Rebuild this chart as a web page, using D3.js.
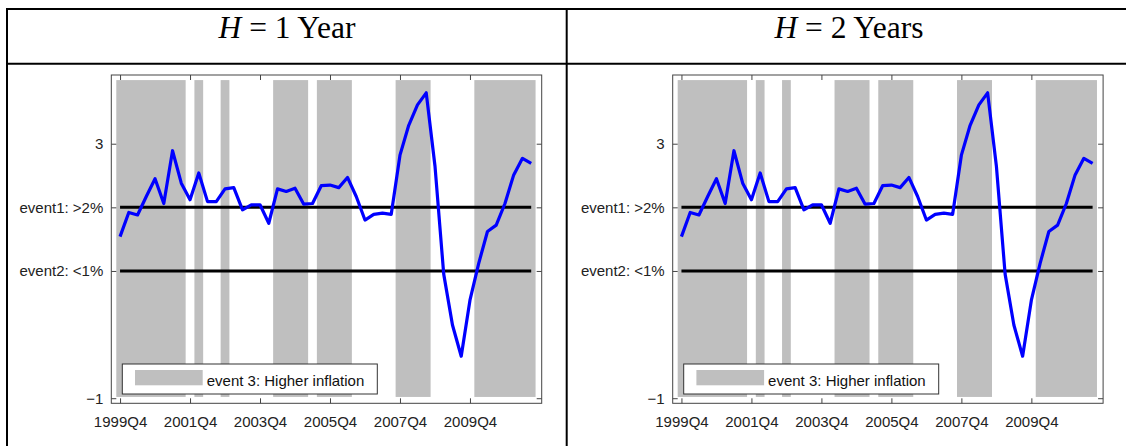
<!DOCTYPE html>
<html>
<head>
<meta charset="utf-8">
<script src="https://cdn.jsdelivr.net/npm/d3@7"></script>
<style>
  body { margin: 0; background: #fff; }
  svg { display: block; }
  .axis text { font-family: "Liberation Sans", Arial, sans-serif; font-size: 15px; fill: #222; }
  .axis line { stroke: #444; }
</style>
</head>
<body>
<svg id="chart" width="1126" height="446"></svg>
<script>
// table headers (italic H + rest)
var panelTitles = [' = 1 Year', ' = 2 Years'];

// x axis: quarter index 0 = 1999Q4
var xTickIdx = [0, 8, 16, 24, 32, 40];
var xTickLabels = ['1999Q4', '2001Q4', '2003Q4', '2005Q4', '2007Q4', '2009Q4'];

// y axis ticks and their labels
var yTickVals = [-1, 1, 2, 3];
var yTickLabels = ['\u22121', 'event2: <1%', 'event1: >2%', '3'];

// event thresholds (horizontal lines)
var thresholds = [2, 1];

// inflation expectation series, 1999Q4 .. 2011Q3
var inflation = [
  1.54, 1.92, 1.88, 2.17, 2.45, 2.06, 2.89, 2.38,
  2.12, 2.54, 2.09, 2.09, 2.29, 2.31, 1.96, 2.04,
  2.04, 1.75, 2.29, 2.25, 2.30, 2.05, 2.06, 2.34,
  2.35, 2.31, 2.47, 2.17, 1.80, 1.89, 1.91, 1.89,
  2.82, 3.29, 3.61, 3.80, 2.65, 0.95, 0.15, -0.34,
  0.54, 1.12, 1.62, 1.72, 2.06, 2.51, 2.77, 2.69
];

// event 3 periods (first and last quarter index)
var eventStart = [0, 9, 12, 18, 23, 32, 41];
var eventEnd   = [7, 9, 12, 21, 26, 35, 47];
var legendLabel = 'event 3: Higher inflation';

var svg = d3.select('#chart');

// --- table grid
var colX = [7, 566.7];
var headCenter = [287, 849];
var grid = svg.append('g').attr('stroke', '#000').attr('stroke-width', 2);
grid.append('line').attr('x1', 6).attr('x2', 1126).attr('y1', 9).attr('y2', 9);
grid.append('line').attr('x1', 6).attr('x2', 1126).attr('y1', 63.7).attr('y2', 63.7);
colX.forEach(function(x) {
  grid.append('line').attr('x1', x).attr('x2', x).attr('y1', 8).attr('y2', 446);
});

panelTitles.forEach(function(t, i) {
  var txt = svg.append('text')
      .attr('x', headCenter[i])
      .attr('y', 37.5)
      .attr('text-anchor', 'middle')
      .style('font-family', '"Liberation Serif", "Times New Roman", serif')
      .style('font-size', '31.5px')
      .attr('fill', '#000');
  txt.append('tspan').style('font-style', 'italic').text('H');
  txt.append('tspan').text(t);
});

// --- panels
var plotLeft = [111.3, 672.7],
    plotTop = 75,
    width = 430.4,
    height = 328.3;

var x = d3.scaleLinear().domain([-1, 48.2]).range([0, width]);
var y = d3.scaleLinear().domain([-1.08, 4.08]).range([height, 0]);

plotLeft.forEach(function(left) {
  var g = svg.append('g').attr('transform', 'translate(' + left + ',' + plotTop + ')');

  // shaded event 3 periods
  g.selectAll('rect.ev')
    .data(d3.range(eventStart.length))
    .enter().append('rect')
      .attr('class', 'ev')
      .attr('x', function(i) { return x(Math.max(eventStart[i] - 0.5, -0.43)); })
      .attr('width', function(i) {
        return x(Math.min(eventEnd[i] + 0.5, 47.75)) - x(Math.max(eventStart[i] - 0.5, -0.43));
      })
      .attr('y', y(4.0))
      .attr('height', y(-0.98) - y(4.0))
      .attr('fill', '#bfbfbf');

  // threshold lines
  g.selectAll('line.thr')
    .data(thresholds)
    .enter().append('line')
      .attr('class', 'thr')
      .attr('x1', x(0)).attr('x2', x(inflation.length - 1))
      .attr('y1', function(d) { return y(d); })
      .attr('y2', function(d) { return y(d); })
      .attr('stroke', '#000')
      .attr('stroke-width', 3);

  // series
  var valueline = d3.line()
      .x(function(d, i) { return x(i); })
      .y(function(d) { return y(d); });

  g.append('path')
      .datum(inflation)
      .attr('d', valueline)
      .attr('fill', 'none')
      .attr('stroke', '#0000ff')
      .attr('stroke-width', 3.2)
      .attr('stroke-linejoin', 'round');

  // axes (ticks pointing inward, MATLAB style)
  g.append('g')
      .attr('class', 'axis')
      .attr('transform', 'translate(0,' + height + ')')
      .call(d3.axisBottom(x).tickValues(xTickIdx)
        .tickFormat(function(d, i) { return xTickLabels[i]; })
        .tickSizeInner(-5).tickSizeOuter(0).tickPadding(13.4))
      .call(function(a) { a.select('.domain').remove(); });

  g.append('g')
      .attr('class', 'axis')
      .call(d3.axisTop(x).tickValues(xTickIdx).tickFormat('')
        .tickSizeInner(-5).tickSizeOuter(0))
      .call(function(a) { a.select('.domain').remove(); });

  g.append('g')
      .attr('class', 'axis')
      .call(d3.axisLeft(y).tickValues(yTickVals)
        .tickFormat(function(d, i) { return yTickLabels[i]; })
        .tickSizeInner(-5).tickSizeOuter(0).tickPadding(8))
      .call(function(a) { a.select('.domain').remove(); });

  g.append('g')
      .attr('class', 'axis')
      .attr('transform', 'translate(' + width + ',0)')
      .call(d3.axisRight(y).tickValues(yTickVals).tickFormat('')
        .tickSizeInner(-5).tickSizeOuter(0))
      .call(function(a) { a.select('.domain').remove(); });

  // frame
  g.append('rect')
      .attr('width', width).attr('height', height)
      .attr('fill', 'none')
      .attr('stroke', '#444')
      .attr('stroke-width', 1);

  // legend
  var lg = g.append('g').attr('transform', 'translate(11,289)');
  lg.append('rect')
      .attr('width', 255).attr('height', 30)
      .attr('fill', '#fff')
      .attr('stroke', '#333');
  lg.append('rect')
      .attr('x', 12.7).attr('y', 6)
      .attr('width', 67.7).attr('height', 15.3)
      .attr('fill', '#bfbfbf');
  lg.append('text')
      .attr('x', 84.4).attr('y', 22)
      .style('font-family', '"Liberation Sans", Arial, sans-serif')
      .style('font-size', '15px')
      .attr('fill', '#111')
      .text(legendLabel);
});
</script>
</body>
</html>
